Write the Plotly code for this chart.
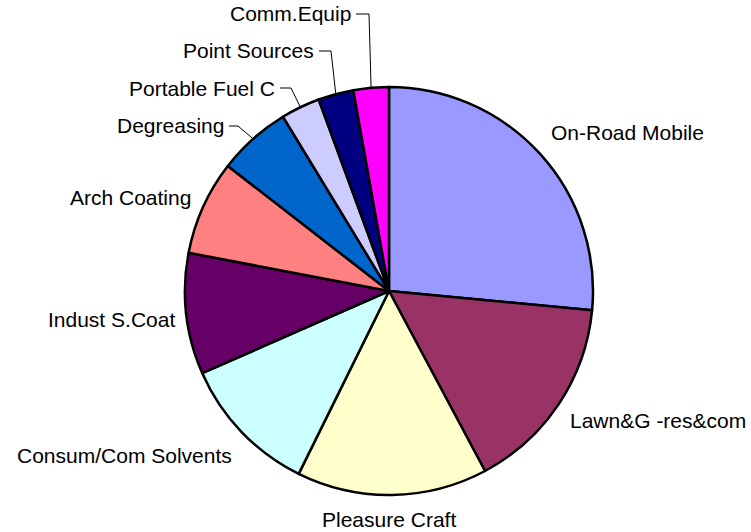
import math
import plotly.graph_objects as go

# ---- data ----
categories = ["On-Road Mobile", "Lawn&G -res&com", "Pleasure Craft", "Consum/Com Solvents",
              "Indust S.Coat", "Arch Coating", "Degreasing", "Portable Fuel C",
              "Point Sources", "Comm.Equip"]
values = [26.5, 15.7, 15.1, 11.1, 9.6, 7.5, 5.8, 3.1, 2.8, 2.8]
colors = ["#9999FF", "#993366", "#FFFFCC", "#CCFFFF", "#660066",
          "#FF8080", "#0066CC", "#CCCCFF", "#000080", "#FF00FF"]

# ---- layout geometry (pixels in the screenshot) ----
W, H = 751, 532
CX, CY, R = 389, 291, 204

def px(x):
    return x / W

def py(y):
    return 1 - y / H

fig = go.Figure(go.Pie(
    labels=categories, values=values, sort=False, direction="clockwise",
    rotation=0, textinfo="none", hoverinfo="label+percent",
    marker=dict(colors=colors, line=dict(color="black", width=2.5)),
    domain=dict(x=[px(CX - R), px(CX + R)], y=[py(CY + R), py(CY - R)]),
    showlegend=False,
))

# label placement: (x, y, xanchor) in pixels; leader elbow x for small slices
label_pos = {
    "On-Road Mobile": (549, 132, "left"),
    "Lawn&G -res&com": (568, 420, "left"),
    "Pleasure Craft": (389, 519, "center"),
    "Consum/Com Solvents": (234, 455, "right"),
    "Indust S.Coat": (177, 319, "right"),
    "Arch Coating": (193, 197, "right"),
    "Degreasing": (226, 126, "right"),
    "Portable Fuel C": (277, 88, "right"),
    "Point Sources": (316, 51, "right"),
    "Comm.Equip": (353, 14, "right"),
}
leader_elbow = {
    "Degreasing": 238,
    "Portable Fuel C": 291,
    "Point Sources": 331,
    "Comm.Equip": 369,
}

total = sum(values)
cum = 0.0
annotations = []
shapes = []
for cat, v in zip(categories, values):
    mid = (cum + v / 2) / total * 2 * math.pi
    cum += v
    x, y, anc = label_pos[cat]
    annotations.append(dict(
        x=px(x), y=py(y), xref="paper", yref="paper", text=cat, showarrow=False,
        xanchor=anc, yanchor="middle",
        font=dict(family="Liberation Sans, Arial, sans-serif", size=21, color="black"),
    ))
    if cat in leader_elbow:
        ex = CX + R * math.sin(mid)
        ey = CY - R * math.cos(mid)
        elbow = leader_elbow[cat]
        path = f"M {px(x + 3)} {py(y)} L {px(elbow)} {py(y)} L {px(ex)} {py(ey)}"
        shapes.append(dict(type="path", xref="paper", yref="paper", path=path,
                           line=dict(color="black", width=1)))

fig.update_layout(
    width=W, height=H, margin=dict(l=0, r=0, t=0, b=0),
    paper_bgcolor="white", plot_bgcolor="white",
    annotations=annotations, shapes=shapes,
)

fig.write_html(
    "out.html",
    config={"displayModeBar": False},
    post_script="document.body.style.margin='0';document.body.style.overflow='hidden';",
)
